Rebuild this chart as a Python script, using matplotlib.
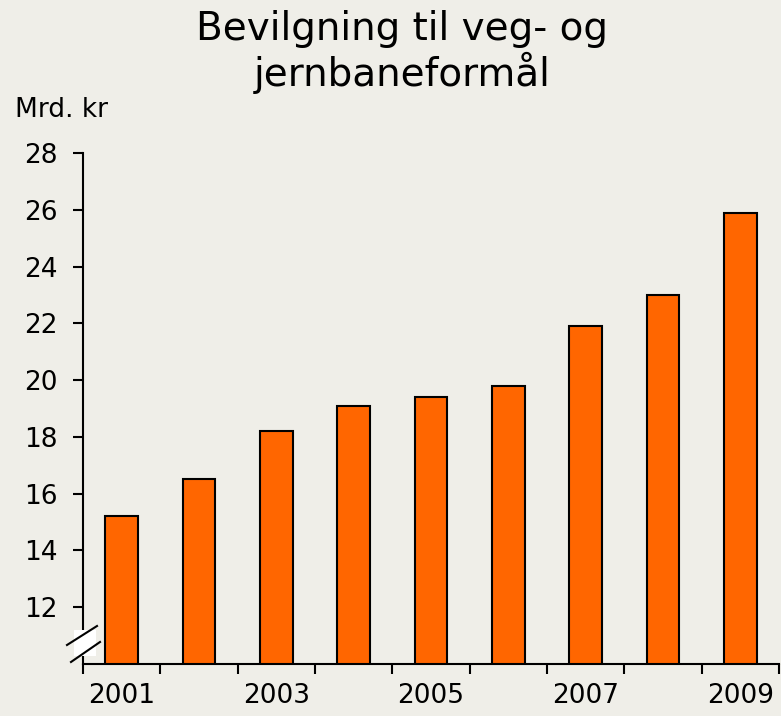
import matplotlib
matplotlib.use("Agg")
import matplotlib.pyplot as plt
from matplotlib.patches import Rectangle
from matplotlib.lines import Line2D

# data
years = [2001, 2002, 2003, 2004, 2005, 2006, 2007, 2008, 2009]
values = [15.2, 16.5, 18.2, 19.1, 19.4, 19.8, 21.9, 23.0, 25.9]
label_years = [2001, 2003, 2005, 2007, 2009]
y_ticks = [12, 14, 16, 18, 20, 22, 24, 26, 28]

bg = "#efeee8"
W, H = 781, 716

fig = plt.figure(figsize=(W / 100, H / 100), dpi=100, facecolor=bg)
ax = fig.add_axes([83 / W, 1 - 664 / H, (779 - 83) / W, (664 - 153) / H])
ax.set_facecolor(bg)

pos = list(range(len(years)))
ax.bar(pos, values, width=0.42, bottom=0, color="#ff6600",
       edgecolor="black", linewidth=1.5, zorder=2)

ax.set_xlim(-0.5, len(years) - 0.5)
ax.set_ylim(10, 28)

# spines
for s in ["top", "right"]:
    ax.spines[s].set_visible(False)
for s in ["left", "bottom"]:
    ax.spines[s].set_linewidth(1.5)

ax.set_yticks(y_ticks)
ax.set_yticklabels([str(v) for v in y_ticks])
ax.tick_params(axis="y", direction="out", length=7, width=1.5,
               pad=11, labelsize=19)

# x: tick marks at boundaries, labels at bar centres
ax.set_xticks([p - 0.5 for p in pos] + [len(years) - 0.5])
ax.set_xticklabels([])
ax.tick_params(axis="x", which="major", direction="out", length=7, width=1.5)
ax.set_xticks([years.index(y) for y in label_years], minor=True)
ax.set_xticklabels([str(y) for y in label_years], minor=True)
ax.tick_params(axis="x", which="minor", length=0, pad=14, labelsize=19)

# axis break mark
fig.patches.append(Rectangle((74 / W, 1 - 656 / H), 22 / W, 26 / H,
                             transform=fig.transFigure, facecolor="white",
                             edgecolor="none", zorder=5))
fig.lines.append(Line2D([67 / W, 97 / W], [1 - 645 / H, 1 - 626 / H],
                        transform=fig.transFigure, color="black", lw=1.5, zorder=6))
fig.lines.append(Line2D([71 / W, 100 / W], [1 - 662 / H, 1 - 642 / H],
                        transform=fig.transFigure, color="black", lw=1.5, zorder=6))

fig.text(402 / W, 1 - 52 / H, "Bevilgning til veg- og\njernbaneformål",
         ha="center", va="center", fontsize=28, linespacing=1.1)
fig.text(15 / W, 1 - 110 / H, "Mrd. kr", ha="left", va="center", fontsize=19)

fig.savefig("out.png", dpi=100, facecolor=bg)
